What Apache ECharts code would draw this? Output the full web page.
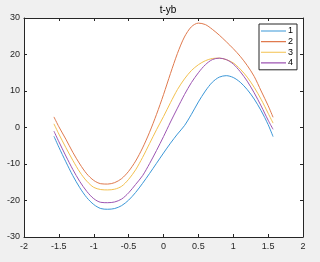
<!DOCTYPE html>
<html>
<head>
<meta charset="utf-8">
<script src="https://cdn.jsdelivr.net/npm/echarts@6/dist/echarts.min.js"></script>
<style>
html,body{margin:0;padding:0;background:#f0f0f0;}
#c{width:320px;height:262px;}
</style>
</head>
<body>
<div id="c"></div>
<script>
const t = [-1.5708,-1.5,-1.4,-1.3,-1.2,-1.1,-1.0,-0.9,-0.8,-0.7,-0.6,-0.5,-0.4,-0.3,-0.2,-0.1,0,0.1,0.2,0.3,0.4,0.5,0.6,0.7,0.8,0.9,1.0,1.1,1.2,1.3,1.4,1.5,1.5708];
const s1 = [-2.4,-5.4,-9.4,-13.2,-16.5,-19.2,-21.1,-22.2,-22.4,-22.2,-21.4,-19.9,-17.8,-15.3,-12.6,-9.8,-7.0,-4.3,-1.8,0.5,3.6,7.0,10.0,12.4,13.8,14.2,13.7,12.4,10.4,7.8,4.6,0.8,-2.5];
const s2 = [2.9,0.2,-3.2,-6.8,-10.0,-12.7,-14.5,-15.4,-15.5,-15.1,-14.0,-12.0,-9.2,-5.6,-1.3,3.6,9.0,14.8,20.3,24.8,27.6,28.6,28.2,26.9,25.3,23.5,21.6,19.5,17.0,14.0,10.0,6.0,2.8];
const s3 = [1.0,-1.8,-5.5,-9.0,-12.2,-14.7,-16.4,-17.0,-17.1,-16.9,-16.1,-14.2,-11.6,-8.2,-4.4,-0.6,3.0,6.8,10.4,13.3,15.6,17.2,18.3,18.9,19.0,18.6,17.7,16.0,13.8,11.0,7.7,3.9,1.2];
const s4 = [-1.0,-3.9,-7.8,-11.5,-14.8,-17.5,-19.5,-20.5,-20.6,-20.4,-19.6,-17.9,-15.6,-13.2,-9.9,-6.3,-2.5,1.5,5.3,9.0,12.3,15.0,17.2,18.6,19.0,18.6,17.4,15.3,12.7,9.5,5.9,2.0,-0.5];
const names = ['1','2','3','4'];
const colors = ['#3b97d8','#e07a4e','#f3c14f','#9d55b3'];
const xTicks = [-2,-1.5,-1,-0.5,0,0.5,1,1.5,2];
const yTicks = [-30,-20,-10,0,10,20,30];

const font = 'Liberation Sans, Arial, Helvetica, sans-serif';
const axisCol = '#262626';
const allSeries = [s1,s2,s3,s4];
const lineIcon = 'path://M0,0L0.01,0L0.01,0.01L0,0.01Z M0,4.5L25,4.5L25,5.6L0,5.6Z M0,9.99L0.01,9.99L0.01,10L0,10Z';

const chart = echarts.init(document.getElementById('c'), null, {renderer:'canvas'});
const common = {
  axisLine:{show:true,onZero:false,lineStyle:{color:axisCol,width:1}},
  axisTick:{show:true,inside:true,length:3,lineStyle:{color:axisCol}},
  splitLine:{show:false}
};
chart.setOption({
  backgroundColor:'#f0f0f0',
  animation:false,
  title:{text:'t-yb',left:163,top:0,textAlign:'center',
    textStyle:{fontFamily:font,fontSize:10,fontWeight:'normal',color:'#000'}},
  grid:{left:24,right:17,top:18,bottom:25,show:true,backgroundColor:'#fff',borderWidth:0},
  legend:{
    orient:'vertical',left:259,top:24,
    data:names.map(n=>({name:n,icon:lineIcon})),
    itemWidth:25,itemHeight:10,itemGap:0.6,
    itemStyle:{borderWidth:0},
    padding:[2,4,2,2],
    backgroundColor:'#fff',borderColor:axisCol,borderWidth:1,borderRadius:0,
    textStyle:{fontFamily:font,fontSize:9,color:'#000',padding:[0,0,0,-3]}
  },
  xAxis:[
    Object.assign({type:'value',min:xTicks[0],max:xTicks[xTicks.length-1],interval:0.5,position:'bottom',
      axisLabel:{fontFamily:font,fontSize:9,color:axisCol,margin:5}},common),
    Object.assign({type:'value',min:xTicks[0],max:xTicks[xTicks.length-1],interval:0.5,position:'top',
      axisLabel:{show:false}},common)
  ],
  yAxis:[
    Object.assign({type:'value',min:yTicks[0],max:yTicks[yTicks.length-1],interval:10,position:'left',
      axisLabel:{fontFamily:font,fontSize:9,color:axisCol,margin:4}},common),
    Object.assign({type:'value',min:yTicks[0],max:yTicks[yTicks.length-1],interval:10,position:'right',
      axisLabel:{show:false}},common)
  ],
  series: allSeries.map((s,i)=>({
    name:names[i],type:'line',smooth:0.3,symbol:'none',
    xAxisIndex:0,yAxisIndex:0,
    lineStyle:{color:colors[i],width:1},itemStyle:{color:colors[i]},
    data:t.map((x,j)=>[x,s[j]])
  }))
});
</script>
</body>
</html>
